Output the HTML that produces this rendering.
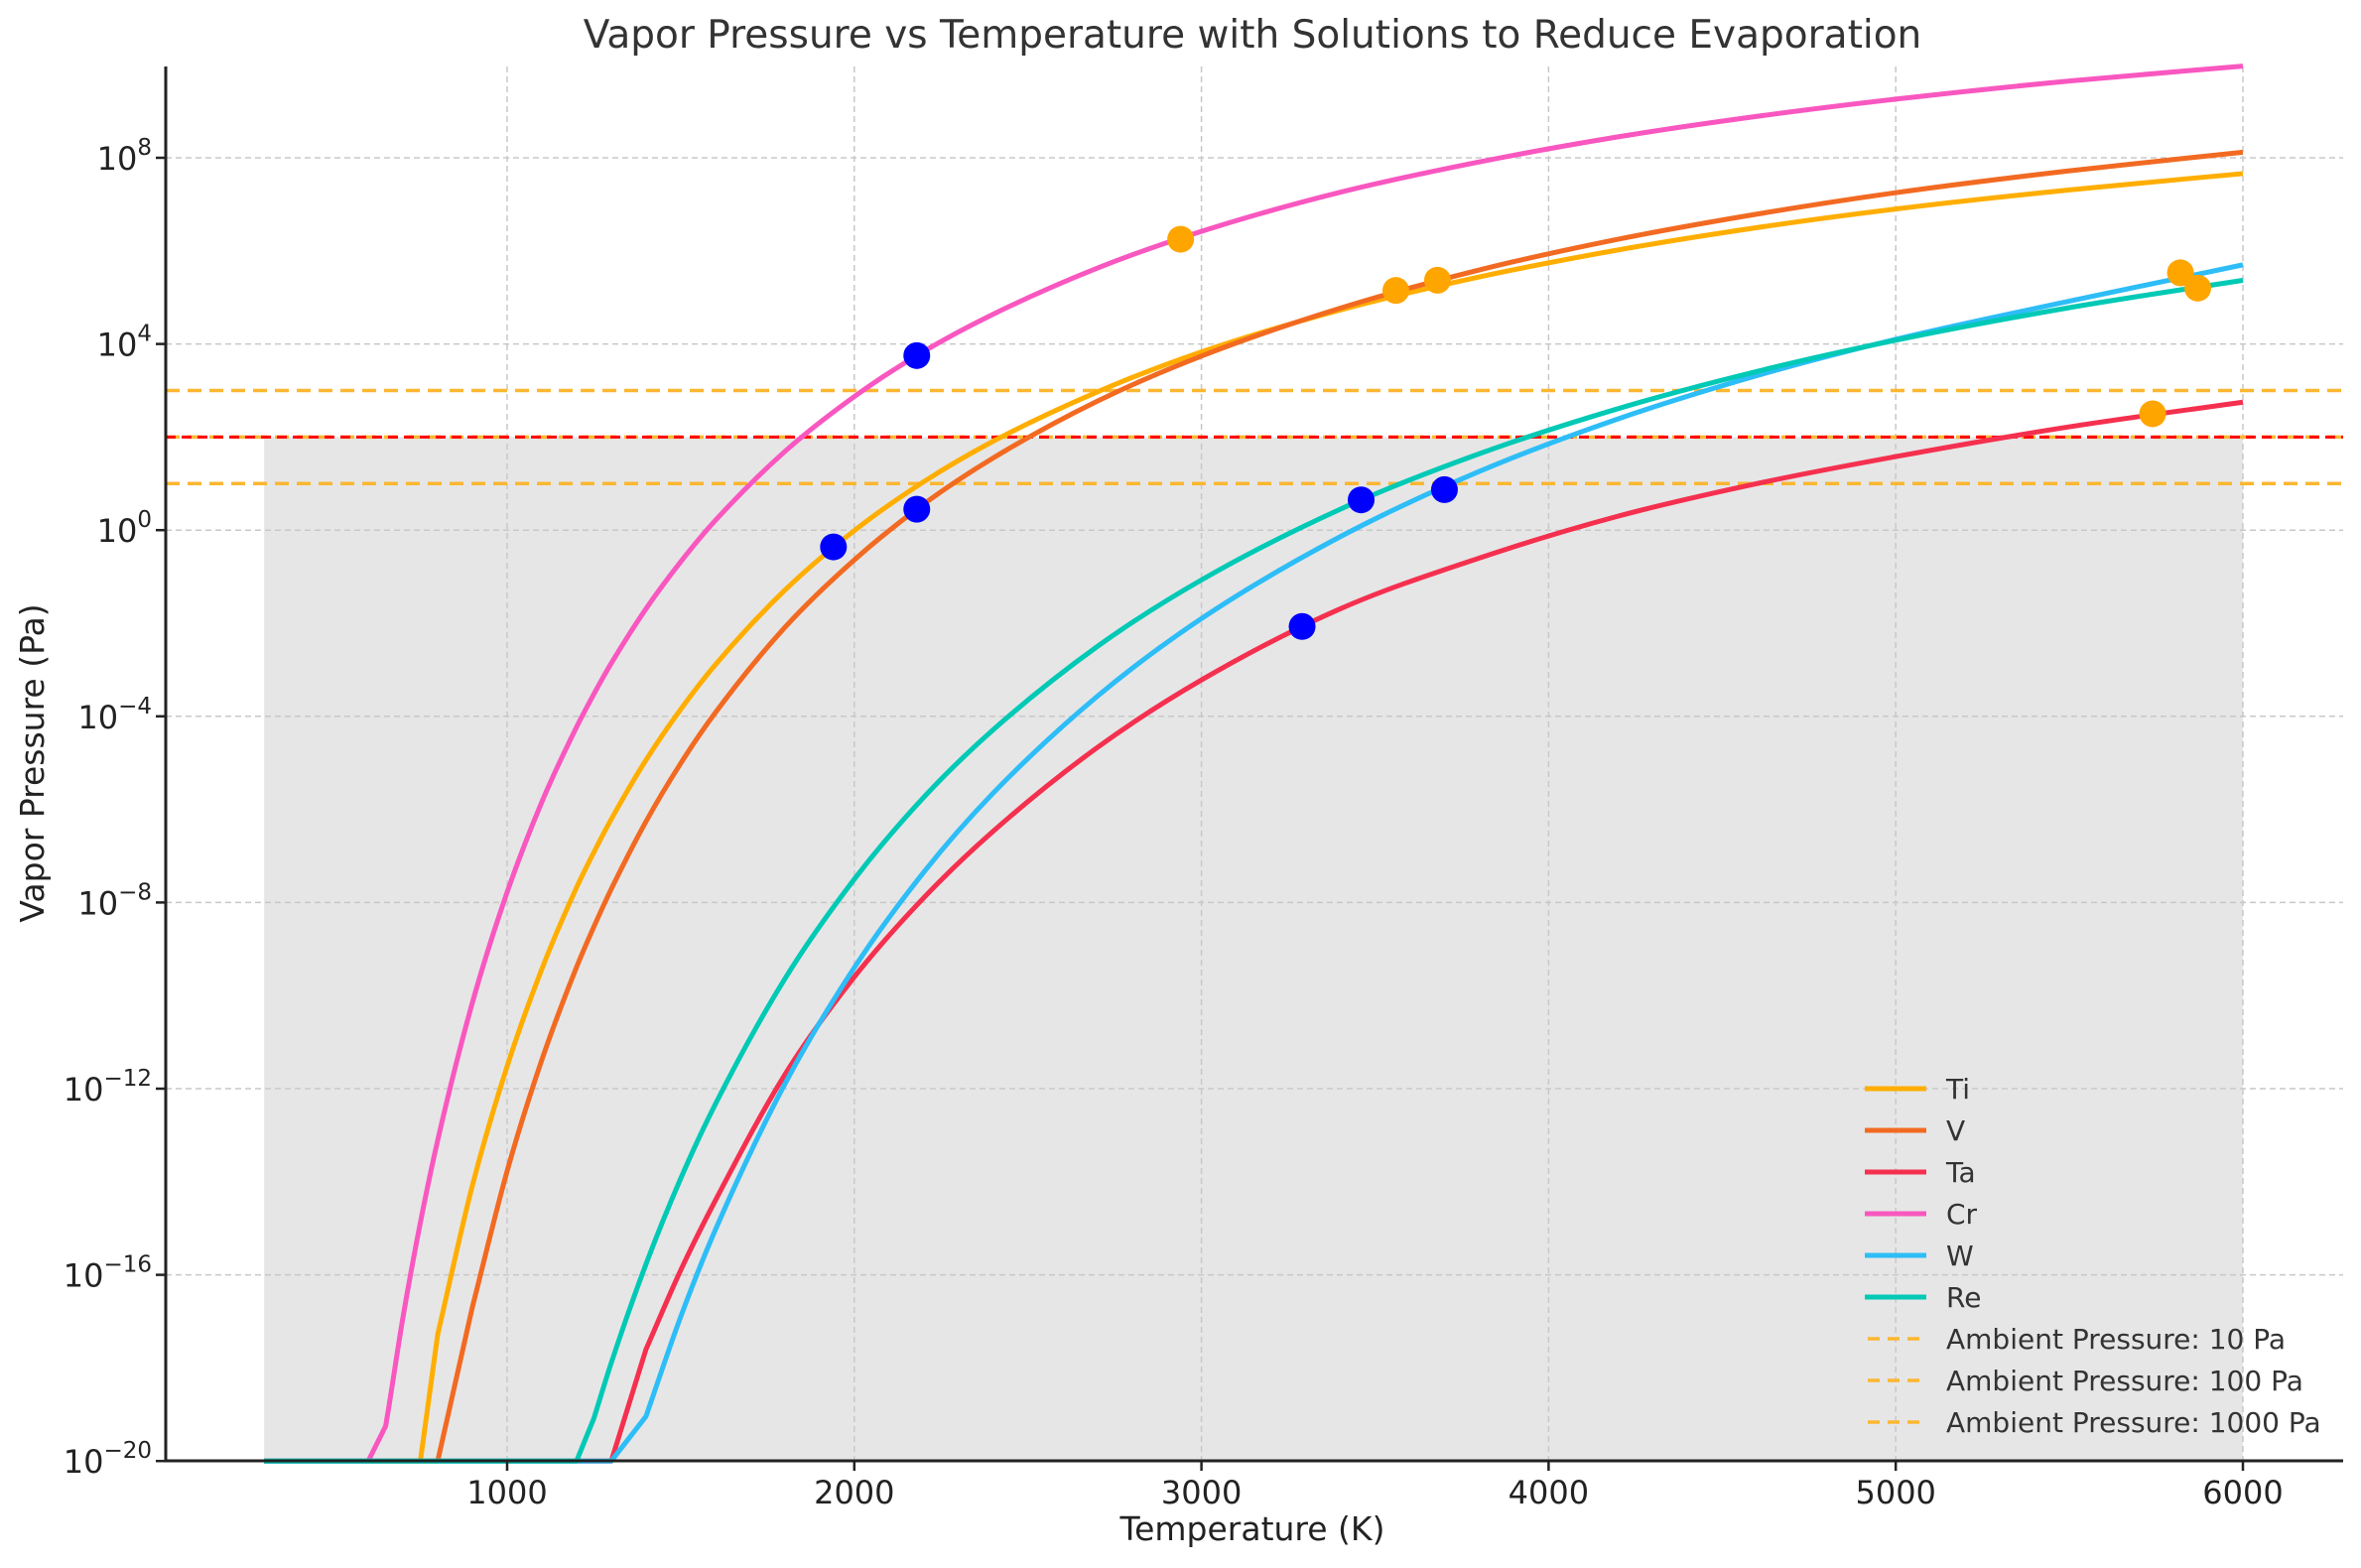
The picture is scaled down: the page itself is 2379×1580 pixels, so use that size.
<!DOCTYPE html>
<html><head><meta charset="utf-8"><style>
html,body{margin:0;padding:0;background:#fff}
svg{display:block;font-family:"DejaVu Sans","Liberation Sans",sans-serif}
</style></head><body>
<svg id="chart" width="2379" height="1580" viewBox="0 0 2379 1580"></svg>
<script>
const temps=[300,600,650,700,750,800,900,1000,1100,1200,1250,1300,1400,1500,1600,1800,2000,2200,2400,2700,3000,3400,3800,4200,4600,5000,5500,6000];
const tiLog=[-20,-20,-20,-20,-20,-17.28,-14.08,-11.52,-9.43,-7.68,-6.92,-6.21,-4.94,-3.85,-2.89,-1.29,-0.01,1.04,1.91,2.97,3.83,4.73,5.44,6.02,6.5,6.9,7.31,7.66];
const vLog=[-20,-20,-20,-20,-20,-20,-16.69,-13.77,-11.38,-9.39,-8.52,-7.71,-6.26,-5.01,-3.92,-2.09,-0.64,0.56,1.55,2.77,3.74,4.77,5.59,6.25,6.79,7.25,7.72,8.12];
const taLog=[-20,-20,-20,-20,-20,-20,-20,-20,-20,-20,-20,-20,-17.6,-15.9,-14.4,-11.7,-9.6,-7.9,-6.47,-4.67,-3.22,-1.69,-0.6,0.3,1.0,1.58,2.22,2.75];
const crLog=[-20,-20,-19.25,-16.91,-14.88,-13.11,-10.15,-7.78,-5.84,-4.23,-3.52,-2.86,-1.69,-0.68,0.21,1.69,2.87,3.84,4.64,5.63,6.42,7.26,7.91,8.45,8.89,9.26,9.65,9.97];
const wLog=[-20,-20,-20,-20,-20,-20,-20,-20,-20,-20,-20,-20,-19.04,-16.9,-15.03,-11.9,-9.4,-7.35,-5.65,-3.57,-1.9,-0.14,1.26,2.39,3.32,4.1,4.92,5.7];
const reLog=[-20,-20,-20,-20,-20,-20,-20,-20,-20,-20.0,-19.08,-17.89,-15.77,-13.93,-12.33,-9.64,-7.5,-5.74,-4.29,-2.5,-1.07,0.45,1.64,2.61,3.41,4.08,4.78,5.37];
const seriesNames=["Ti","V","Ta","Cr","W","Re"];
const seriesColors=["#FFAE00","#F26A22","#F5304F","#F957C0","#2DBDF7","#00C9B5"];
const safeT=[1940,2180,3290,2180,3700,3460];
const safeLog=[-0.36,0.45,-2.07,3.75,0.87,0.65];
const hotT=[2940,3560,3680,5820,5870,5740];
const hotLog=[6.25,5.15,5.37,5.53,5.2,2.5];
const ambientLog=[1,2,3];
const ambientLabels=["Ambient Pressure: 10 Pa","Ambient Pressure: 100 Pa","Ambient Pressure: 1000 Pa"];
const xTicks=[1000,2000,3000,4000,5000,6000];
const yTicks=[8,4,0,-4,-8,-12,-16,-20];

const NS="http://www.w3.org/2000/svg";
const svg=document.getElementById('chart');
const L=167,R=2361,T=67,B=1472;
function xs(t){return 511+(t-1000)*0.3498;}
function ys(l){return 159+(8-l)*46.9;}
function mk(tag,attrs,parent){const e=document.createElementNS(NS,tag);for(const k in attrs)e.setAttribute(k,attrs[k]);(parent||svg).appendChild(e);return e;}

let g=mk('rect',{x:xs(300),y:ys(2),width:xs(6000)-xs(300),height:ys(-20)-ys(2),fill:'#e6e6e6'});


xTicks.forEach(t=>{const l=mk('line',{x1:xs(t),x2:xs(t),y1:T,y2:B,stroke:'#c8c8c8','stroke-width':1.5,'stroke-dasharray':'6,4'});

});
yTicks.slice(0,7).forEach(v=>{const l=mk('line',{x1:L,x2:R,y1:ys(v),y2:ys(v),stroke:'#c8c8c8','stroke-width':1.5,'stroke-dasharray':'6,4'});

});
ambientLog.forEach(v=>{const l=mk('line',{x1:L,x2:R,y1:ys(v),y2:ys(v),stroke:'#FBB731','stroke-width':3.5,'stroke-dasharray':'14,8'});

});
let red=mk('line',{x1:L,x2:R,y1:ys(2),y2:ys(2),stroke:'#FF0000','stroke-width':3,'stroke-dasharray':'10,6'});



function pathFor(xv,yv,raw){
  const n=xv.length,d=[],m=new Array(n);
  for(let i=0;i<n-1;i++)d.push((yv[i+1]-yv[i])/(xv[i+1]-xv[i]));
  m[0]=d[0];m[n-1]=d[n-2];
  for(let i=1;i<n-1;i++){
    if(raw[i-1]<=-20||raw[i]<=-20)m[i]=d[i];
    else m[i]=(d[i-1]*d[i]<=0)?0:(d[i-1]+d[i])/2;
  }
  for(let i=0;i<n-1;i++){if(d[i]===0){continue;}const a=m[i]/d[i],b=m[i+1]/d[i],s=a*a+b*b;if(s>9){const t=3/Math.sqrt(s);m[i]=t*a*d[i];m[i+1]=t*b*d[i];}}
  let p='M'+xv[0]+','+yv[0];
  for(let i=0;i<n-1;i++){
    if(raw[i]<=-20){p+=' L'+xv[i+1]+','+yv[i+1];continue;}
    const h=xv[i+1]-xv[i];p+=' C'+(xv[i]+h/3)+','+(yv[i]+m[i]*h/3)+' '+(xv[i+1]-h/3)+','+(yv[i+1]-m[i+1]*h/3)+' '+xv[i+1]+','+yv[i+1];}
  return p;
}
const allSeries=[tiLog,vLog,taLog,crLog,wLog,reLog];
allSeries.forEach((s,i)=>{
  const p=mk('path',{d:pathFor(temps.map(xs),s.map(ys),s),fill:'none',stroke:seriesColors[i],'stroke-width':5,'stroke-linejoin':'round'});
  
  
});
hotT.forEach((t,i)=>{const c=mk('circle',{cx:xs(t),cy:ys(hotLog[i]),r:13.5,fill:'#FFA500'});

});
safeT.forEach((t,i)=>{const c=mk('circle',{cx:xs(t),cy:ys(safeLog[i]),r:13.5,fill:'#0000FF'});

});

let sp=mk('line',{x1:L,x2:L,y1:T,y2:B+1.5,stroke:'#222','stroke-width':3});


sp=mk('line',{x1:L-1.5,x2:R,y1:B,y2:B,stroke:'#222','stroke-width':3});


xTicks.forEach(t=>{
  const tk=mk('line',{x1:xs(t),x2:xs(t),y1:B,y2:B+10,stroke:'#222','stroke-width':2.5});
  
  
  const tx=mk('text',{x:xs(t),y:B+43,'text-anchor':'middle','font-size':32,fill:'#222'});tx.textContent=t;
  
  
});
yTicks.forEach(v=>{
  const tk=mk('line',{x1:L-10,x2:L,y1:ys(v),y2:ys(v),stroke:'#222','stroke-width':2.5});
  
  
  const tx=mk('text',{x:L-14,y:ys(v)+12,'text-anchor':'end','font-size':32,fill:'#222'});
  
  
  const a=mk('tspan',{},tx);a.textContent='10';
  const b=mk('tspan',{dy:-15,'font-size':23},tx);b.textContent=(v<0?'\u2212'+(-v):String(v));
});
let t1=mk('text',{x:1262,y:48,'text-anchor':'middle','font-size':39,fill:'#333'});t1.textContent='Vapor Pressure vs Temperature with Solutions to Reduce Evaporation';


t1=mk('text',{x:1262,y:1552,'text-anchor':'middle','font-size':33,fill:'#222'});t1.textContent='Temperature (K)';


t1=mk('text',{x:44,y:769,'text-anchor':'middle','font-size':33,fill:'#222',transform:'rotate(-90 44 769)'});t1.textContent='Vapor Pressure (Pa)';


const legY0=1097,legDY=42;
seriesNames.forEach((n,i)=>{
  const y=legY0+i*legDY;
  const l=mk('line',{x1:1879,x2:1941,y1:y,y2:y,stroke:seriesColors[i],'stroke-width':5});
  
  
  const tx=mk('text',{x:1961,y:y+10,'font-size':28,fill:'#333'});tx.textContent=n;
  
  
});
ambientLabels.forEach((n,i)=>{
  const y=legY0+(6+i)*legDY;
  const l=mk('line',{x1:1882,x2:1941,y1:y,y2:y,stroke:'#FBB731','stroke-width':3.5,'stroke-dasharray':'12,8'});
  
  
  const tx=mk('text',{x:1961,y:y+10,'font-size':28,fill:'#333'});tx.textContent=n;
  
  
});
</script>
</body></html>
